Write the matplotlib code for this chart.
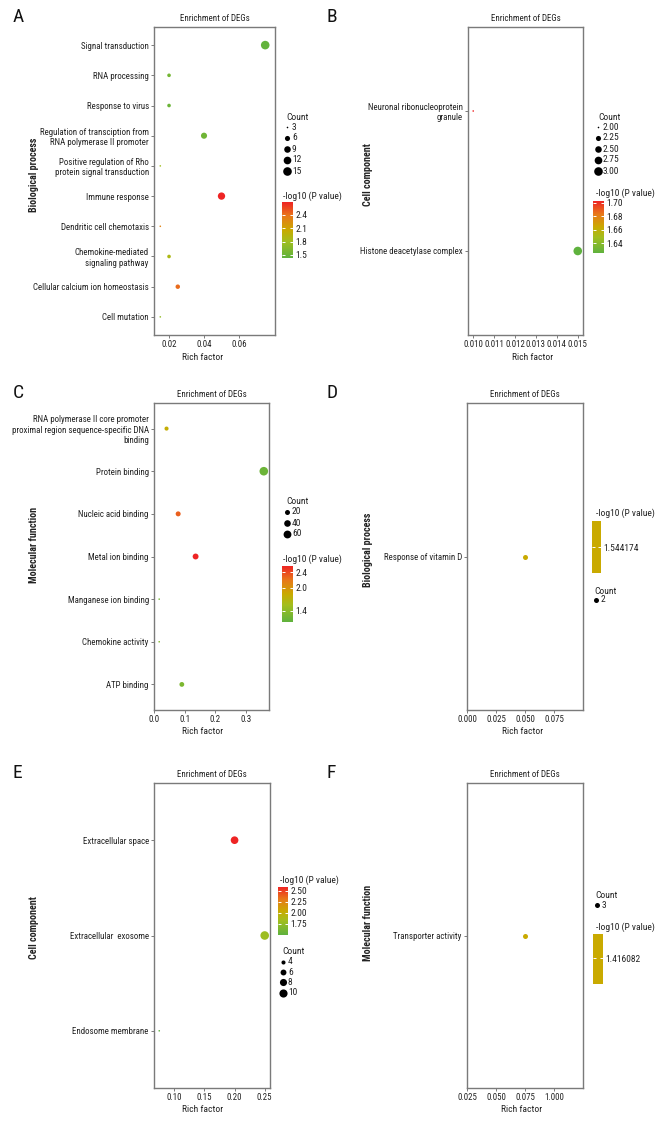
import numpy as np
import matplotlib
matplotlib.use('Agg')
import matplotlib.pyplot as plt
from matplotlib import font_manager
from matplotlib.colors import LinearSegmentedColormap, ListedColormap, Normalize
from matplotlib.cm import ScalarMappable

# ---- data (terms listed top to bottom) ----
a_terms = ['Signal transduction', 'RNA processing', 'Response to virus',
           'Regulation of transciption from\nRNA polymerase II promoter',
           'Positive regulation of Rho\nprotein signal transduction',
           'Immune response', 'Dendritic cell chemotaxis',
           'Chemokine-mediated\nsignaling pathway',
           'Cellular calcium ion homeostasis', 'Cell mutation']
a_rich = [0.075, 0.020, 0.020, 0.040, 0.015, 0.050, 0.015, 0.020, 0.025, 0.015]
a_count = [15, 4, 4, 8, 3, 11, 3, 4, 5, 3]
a_logp = [1.45, 1.55, 1.50, 1.52, 1.80, 2.69, 2.30, 1.88, 2.42, 1.72]

b_terms = ['Neuronal ribonucleoprotein\ngranule', 'Histone deacetylase complex']
b_rich = [0.010, 0.015]
b_count = [2, 3]
b_logp = [1.703, 1.625]

c_terms = ['RNA polymerase II core promoter\nproximal region sequence-specific DNA\nbinding',
           'Protein binding', 'Nucleic acid binding', 'Metal ion binding',
           'Manganese ion binding', 'Chemokine activity', 'ATP binding']
c_rich = [0.040, 0.358, 0.078, 0.135, 0.016, 0.016, 0.090]
c_count = [12, 75, 20, 30, 3, 3, 18]
c_logp = [1.80, 1.20, 2.30, 2.56, 1.25, 1.35, 1.30]

d_terms = ['Response of vitamin D']
d_rich = [0.050]
d_count = [2]
d_logp = [1.544174]

e_terms = ['Extracellular space', 'Extracellular  exosome', 'Endosome membrane']
e_rich = [0.200, 0.250, 0.075]
e_count = [9, 11, 3]
e_logp = [2.59, 1.80, 1.50]

f_terms = ['Transporter activity']
f_rich = [0.075]
f_count = [3]
f_logp = [1.416082]

# pick a narrow font if one is installed
entries = font_manager.fontManager.ttflist
names = {f.name for f in entries}
FS = 6.0
if 'Liberation Sans Narrow' in names:
    plt.rcParams['font.family'] = ['Liberation Sans Narrow', 'DejaVu Sans']
    FS = 6.6
elif 'Roboto Condensed' in names:
    plt.rcParams['font.family'] = ['Roboto Condensed', 'DejaVu Sans']
    FS = 6.4
elif any(f.name == 'DejaVu Sans' and str(f.stretch) in ('condensed', 'semi-condensed') for f in entries):
    plt.rcParams['font.family'] = ['DejaVu Sans']
    plt.rcParams['font.stretch'] = 'condensed'
    FS = 6.0
else:
    plt.rcParams['font.family'] = ['Liberation Sans', 'DejaVu Sans']
    FS = 6.0

W, H = 670, 1130
GREY = '#7a7a7a'
TXT = '#222222'

cmap = LinearSegmentedColormap.from_list(
    'enr', [(0, '#5FB23E'), (0.3, '#A2BE1E'), (0.5, '#C9AA00'), (0.75, '#E8781A'), (1, '#EE2424')])


def rect(x0, y0, x1, y1):
    return [x0 / W, 1 - y1 / H, (x1 - x0) / W, (y1 - y0) / H]


def diam(v, vmin, vmax):
    if vmax == vmin:
        return 5.0
    return 1.6 + (8.6 - 1.6) * np.sqrt((v - vmin) / (vmax - vmin))


fig = plt.figure(figsize=(W / 100, H / 100), dpi=100)
ov = fig.add_axes([0, 0, 1, 1], zorder=5)
ov.set_xlim(0, W)
ov.set_ylim(H, 0)
ov.axis('off')


def panel(box, terms, rich, count, logp, xlim, xticks, xticklabels, ylab, letter,
          xlab_x, ylab_x, ylab_y, crange, size_leg, cbar, single=False):
    ax = fig.add_axes(rect(*box))
    n = len(terms)
    ypos = np.arange(n)[::-1]
    norm = Normalize(*crange)
    cm = ListedColormap([cmap(0.5)]) if single else cmap
    cmin_c, cmax_c = min(count), max(count)
    if len(size_leg[0]) > 1:
        cmin_c = min(cmin_c, min(size_leg[0]))
        cmax_c = max(cmax_c, max(size_leg[0]))
    sizes = [(diam(c, cmin_c, cmax_c) * 0.72) ** 2 for c in count]
    cols = [cm(norm(v)) for v in logp]
    ax.scatter(rich, ypos, s=sizes, c=cols, linewidths=0, zorder=3)
    ax.set_xlim(*xlim)
    ax.set_ylim(-0.6, n - 1 + 0.6)
    ax.set_yticks(ypos)
    ax.set_yticklabels(terms)
    ax.set_xticks(xticks)
    ax.set_xticklabels(xticklabels)
    ax.tick_params(labelsize=FS, length=2.2, width=0.7, color=GREY, pad=1.5, labelcolor=TXT)
    for sp in ax.spines.values():
        sp.set_color(GREY)
        sp.set_linewidth(1.0)
    ax.set_title('Enrichment of DEGs', fontsize=FS, pad=4.5, color=TXT)
    fig.text(xlab_x / W, 1 - (box[3] + 22) / H, 'Rich factor', fontsize=FS + 0.4,
             ha='center', va='center', color=TXT)
    fig.text(ylab_x / W, 1 - ylab_y / H, ylab, fontsize=FS + 0.8, fontweight='bold',
             rotation=90, ha='center', va='center', color=TXT)
    fig.text((box[0] - 141) / W, 1 - (box[1] - 10) / H, letter, fontsize=14,
             ha='left', va='center', color='#111111')

    # size legend
    vals, tx, ty, dx, dy, step = size_leg
    ov.text(tx, ty, 'Count', fontsize=FS + 0.4, ha='left', va='center', color=TXT)
    for i, v in enumerate(vals):
        yy = dy + i * step
        ov.scatter([dx], [yy], s=(diam(v, cmin_c, cmax_c) * 0.72) ** 2, c='black', linewidths=0)
        lab = ('%.2f' % v) if isinstance(v, float) else str(v)
        ov.text(dx + 5, yy, lab, fontsize=FS + 0.4, ha='left', va='center', color=TXT)

    # colour legend
    ticks, labels, ttx, tty, bar = cbar
    ov.text(ttx, tty, '-log10 (P value)', fontsize=FS + 0.4, ha='left', va='center', color=TXT)
    cax = fig.add_axes(rect(*bar))
    cb = fig.colorbar(ScalarMappable(norm=norm, cmap=cm), cax=cax, ticks=ticks)
    cb.ax.set_yticklabels(labels)
    cb.outline.set_visible(False)
    cax.tick_params(labelsize=FS + 0.4, length=2.5, width=0.7, color='white',
                    direction='in', pad=2, labelcolor=TXT, left=True)
    return ax


# A
panel((154, 27, 275, 335), a_terms, a_rich, a_count, a_logp,
      (0.0114, 0.0806), [0.02, 0.04, 0.06], ['0.02', '0.04', '0.06'],
      'Biological process', 'A', 203, 34, 175, (1.43, 2.69),
      ([3, 6, 9, 12, 15], 286, 117, 287, 127, 11),
      ([2.4, 2.1, 1.8, 1.5], ['2.4', '2.1', '1.8', '1.5'], 283, 196, (282, 202, 293, 258)))

# B
panel((468, 27, 583, 335), b_terms, b_rich, b_count, b_logp,
      (0.00975, 0.01525), [0.010, 0.011, 0.012, 0.013, 0.014, 0.015],
      ['0.010', '0.011', '0.012', '0.013', '0.014', '0.015'],
      'Cell component', 'B', 533, 368, 175, (1.625, 1.703),
      ([2.00, 2.25, 2.50, 2.75, 3.00], 598, 117, 598, 127, 11),
      ([1.70, 1.68, 1.66, 1.64], ['1.70', '1.68', '1.66', '1.64'], 596, 193, (593, 201, 604, 253)))

# C
panel((154, 403, 269, 710), c_terms, c_rich, c_count, c_logp,
      (-0.001, 0.375), [0.0, 0.1, 0.2, 0.3], ['0.0', '0.1', '0.2', '0.3'],
      'Molecular function', 'C', 203, 34, 545, (1.11, 2.56),
      ([20, 40, 60], 286, 502, 287, 512, 11),
      ([2.4, 2.0, 1.4], ['2.4', '2.0', '1.4'], 283, 559, (282, 566, 293, 622)))

# D
panel((467, 403, 583, 710), d_terms, d_rich, d_count, d_logp,
      (0.0, 0.1), [0.0, 0.025, 0.05, 0.075], ['0.000', '0.025', '0.050', '0.075'],
      'Biological process', 'D', 523, 368, 550, (1.50, 1.59),
      ([2], 594, 591, 596, 600, 11),
      ([1.544174], ['1.544174'], 596, 513, (592, 521, 601, 573)), single=True)

# E
panel((154, 783, 270, 1088), e_terms, e_rich, e_count, e_logp,
      (0.0663, 0.2588), [0.10, 0.15, 0.20, 0.25], ['0.10', '0.15', '0.20', '0.25'],
      'Cell component', 'E', 203, 34, 928, (1.50, 2.59),
      ([4, 6, 8, 10], 282, 952, 283, 962, 10.2),
      ([2.50, 2.25, 2.00, 1.75], ['2.50', '2.25', '2.00', '1.75'], 280, 880, (278, 887, 288, 935)))

# F
panel((467, 783, 583, 1088), f_terms, f_rich, f_count, f_logp,
      (0.025, 0.125), [0.025, 0.05, 0.075, 0.1], ['0.025', '0.050', '0.075', '1.000'],
      'Molecular function', 'F', 522, 368, 923, (1.37, 1.46),
      ([3], 595, 896, 597, 905, 11),
      ([1.416082], ['1.416082'], 596, 927, (593, 934, 603, 984)), single=True)

plt.savefig('out.png', dpi=100)
